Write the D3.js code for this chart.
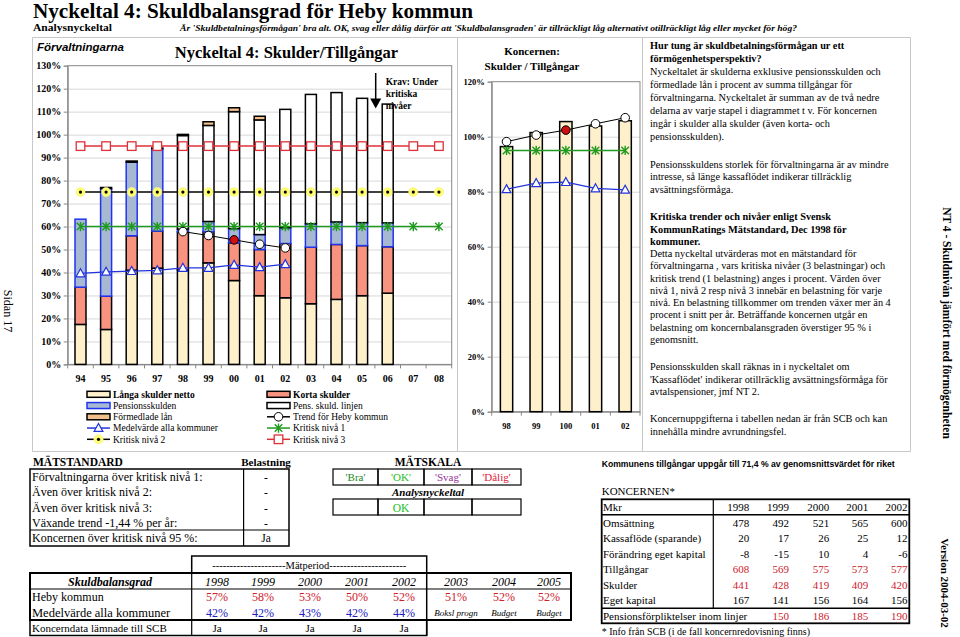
<!DOCTYPE html>
<html><head><meta charset="utf-8">
<script src="https://cdn.jsdelivr.net/npm/d3@7"></script>
<style>
body{margin:0;background:#fff}
svg{display:block}
text{font-family:"Liberation Serif","Times New Roman",serif;fill:#000}
</style>
</head><body>
<svg id="c" width="960" height="637"></svg>
<script>
// ---------- DATA ----------
const years = ['94','95','96','97','98','99','00','01','02','03','04','05','06','07','08'];
const langaSkulder    = [17.4,15.2,41.0,41.9,41.0,44.2,36.5,29.9,29.0,26.4,28.3,29.9,31.0,null,null];
const kortaSkulder    = [16.2,14.5,15.0,16.1,16.7,13.5,16.4,20.1,23.6,24.6,23.9,21.8,20.2,null,null];
const pensionsskulden = [29.6,46.8,32.0,35.9,1.2,4.5,6.2,6.5,6.9,10.2,9.8,10.0,10.4,null,null];
const pensLinjen      = [0,0,0,0,40.7,41.8,50.9,49.9,51.5,56.3,56.3,54.1,51.7,null,null];
const formedladeLan   = [0,0.5,0.5,0.3,0.5,1.6,1.7,1.6,0,0,0,0,0,null,null];
const trendHeby  = [null,null,null,null,57.8,56.1,54.2,52.3,50.7,null,null,null,null,null,null];
const medelAlla  = [39.6,40.3,40.6,40.9,42.0,42.0,43.3,42.3,43.6,null,null,null,null,null,null];
const kritisk1   = [60,60,60,60,60,60,60,60,60,60,60,60,60,60,60];
const kritisk2   = [75,75,75,75,75,75,75,75,75,75,75,75,75,75,75];
const kritisk3   = [95,95,95,95,95,95,95,95,95,95,95,95,95,95,95];
const mainTicks  = [0,10,20,30,40,50,60,70,80,90,100,110,120,130];

const koncernYears   = ['98','99','100','01','02'];
const koncernSkulder = [96.4,101.5,105.5,103.9,105.8];
const koncernTrend   = [98.2,100.6,102.4,104.7,106.9];
const koncernKritisk = [95,95,95,95,95];
const koncernMedel   = [80.9,83.1,83.5,81.2,80.7];
const koncernTicks   = [0,20,40,60,80,100,120];

const matRows   = ['Förvaltningarna över kritisk nivå 1:','Även över kritisk nivå 2:','Även över kritisk nivå 3:','Växande trend -1,44 % per år:','Koncernen över kritisk nivå 95 %:'];
const matValues = ['-','-','-','-','Ja'];
const skalaLabels = ["'Bra'","'OK'","'Svag'","'Dålig'"];
const skalaResult = ['','OK','',''];

const gradYears  = ['1998','1999','2000','2001','2002','2003','2004','2005'];
const gradHeby   = ['57%','58%','53%','50%','52%','51%','52%','52%'];
const gradMedel  = ['42%','42%','43%','42%','44%'];
const gradNotes  = ['Boksl progn','Budget','Budget'];
const koncernLamnad = ['Ja','Ja','Ja','Ja','Ja'];

const kYears = ['1998','1999','2000','2001','2002'];
const kRows = [
  {label:'Omsättning', vals:['478','492','521','565','600'], red:false},
  {label:'Kassaflöde (sparande)', vals:['20','17','26','25','12'], red:false},
  {label:'Förändring eget kapital', vals:['-8','-15','10','4','-6'], red:false},
  {label:'Tillgångar', vals:['608','569','575','573','577'], red:true},
  {label:'Skulder', vals:['441','428','419','409','420'], red:true},
  {label:'Eget kapital', vals:['167','141','156','164','156'], red:false},
  {label:'Pensionsförpliktelser inom linjer', vals:['','150','186','185','190'], red:true}
];

const paragraphs = [
  {y:45.5, step:13.0, lines:[
    ['Hur tung är skuldbetalningsförmågan ur ett',1],['förmögenhetsperspektiv?',1],
    ['Nyckeltalet är skulderna exklusive pensionsskulden och',0],
    ['förmedlade lån i procent av summa tillgångar för',0],
    ['förvaltningarna. Nyckeltalet är summan av de två nedre',0],
    ['delarna av varje stapel i diagrammet t v.  För koncernen',0],
    ['ingår i skulder alla skulder (även korta- och',0],
    ['pensionsskulden).',0]]},
  {y:164.3, step:12.4, lines:[
    ['Pensionsskuldens storlek för förvaltningarna är av mindre',0],
    ['intresse, så länge kassaflödet indikerar tillräcklig',0],
    ['avsättningsförmåga.',0]]},
  {y:216.7, step:12.26, lines:[
    ['Kritiska trender och nivåer enligt Svensk',1],
    ['KommunRatings Mätstandard, Dec 1998 för',1],
    ['kommuner.',1],
    ['Detta nyckeltal utvärderas mot en mätstandard för',0],
    ['förvaltningarna , vars kritiska nivåer (3 belastningar) och',0],
    ['kritisk trend (1 belastning) anges i procent. Värden över',0],
    ['nivå 1, nivå 2 resp nivå 3 innebär en belastning för varje',0],
    ['nivå. En belastning tillkommer om trenden växer mer än 4',0],
    ['procent i snitt per år.  Beträffande koncernen utgår en',0],
    ['belastning om koncernbalansgraden överstiger 95 % i',0],
    ['genomsnitt.',0]]},
  {y:366.7, step:12.3, lines:[
    ['Pensionsskulden skall räknas in i nyckeltalet om',0],
    ["'Kassaflödet' indikerar otillräcklig avsättningsförmåga för",0],
    ['avtalspensioner, jmf NT 2.',0]]},
  {y:418.3, step:12.7, lines:[
    ['Koncernuppgifterna i tabellen nedan är från SCB och kan',0],
    ['innehålla mindre avrundningsfel.',0]]}
];

// ---------- DRAW ----------
const svg = d3.select('#c');
svg.append('rect').attr('width',960).attr('height',637).attr('fill','#fff');

const C = {langa:'#FFF0CC', korta:'#F8937F', pens:'#A7B8D2', pensStroke:'#2233EE', linjen:'#FFFFFF', form:'#F2C08C',
  trend:'#000', medel:'#2233DD', k1:'#1E9A1E', k2:'#000', k3:'#E0303A', grid:'#D8D8D8', frame:'#C8C8C8'};

function txt(g, x, y, s, o={}) {
  const t = g.append('text').attr('x',x).attr('y',y).text(s)
    .attr('font-size', o.size||10).attr('text-anchor', o.anchor||'start');
  if (o.bold) t.attr('font-weight','bold');
  if (o.italic) t.attr('font-style','italic');
  if (o.fill) t.style('fill', o.fill);
  if (o.family) t.style('font-family', o.family);
  if (o.len) t.attr('textLength', o.len).attr('lengthAdjust','spacingAndGlyphs');
  if (o.db) t.attr('dominant-baseline', o.db);
  return t;
}

function markerAster(g, x, y, col) {
  const s = 3.8;
  g.append('path').attr('d',`M${x-s},${y-s}L${x+s},${y+s}M${x-s},${y+s}L${x+s},${y-s}M${x},${y-s-0.8}L${x},${y+s+0.8}`)
    .attr('stroke', col).attr('stroke-width',1.4).attr('fill','none');
}
function markerYellow(g, x, y) {
  g.append('circle').attr('cx',x).attr('cy',y).attr('r',4.6).attr('fill','#FFFF70').attr('stroke','#F4F4A0').attr('stroke-width',0.6);
  g.append('circle').attr('cx',x).attr('cy',y).attr('r',1.6).attr('fill','#000');
}
function markerSquare(g, x, y) {
  g.append('rect').attr('x',x-4.3).attr('y',y-4.3).attr('width',8.6).attr('height',8.6)
    .attr('fill','#fff').attr('stroke',C.k3).attr('stroke-width',1.3);
}
function markerCircle(g, x, y, fill) {
  g.append('circle').attr('cx',x).attr('cy',y).attr('r',4.3).attr('fill',fill||'#fff').attr('stroke','#000').attr('stroke-width',1);
}
function markerTri(g, x, y) {
  g.append('path').attr('d',`M${x},${y-4.6}L${x+4.4},${y+3.4}L${x-4.4},${y+3.4}Z`)
    .attr('fill','#fff').attr('stroke',C.medel).attr('stroke-width',1.2);
}
function drawSeries(g, xs, ys, cats, vals, lineCol, lw, markFn) {
  const pts = cats.map((c,i)=>[xs(c)+xs.bandwidth()/2, vals[i]==null?null:ys(vals[i])]);
  const line = d3.line().defined(d=>d[1]!=null);
  g.append('path').attr('d', line(pts)).attr('fill','none').attr('stroke',lineCol).attr('stroke-width',lw);
  pts.forEach((p,i)=>{ if(p[1]!=null) markFn(g, p[0], p[1], i); });
}

// ---------- frames ----------
const fr = svg.append('g').attr('stroke',C.frame).attr('stroke-width',1).attr('fill','none');
fr.append('path').attr('d','M32.5,37.5H910.5M32.5,37.5V451.5H910.5V37.5M457.5,37.5V451.5M642.5,37.5V451.5');

// ---------- header ----------
txt(svg, 33, 18, 'Nyckeltal 4: Skuldbalansgrad för Heby kommun', {size:21.5, bold:true, len:440});
txt(svg, 33, 31, 'Analysnyckeltal', {size:10.5, bold:true, len:79});
txt(svg, 180, 31, "Är 'Skuldbetalningsförmågan' bra alt. OK, svag eller dålig därför att 'Skuldbalansgraden' är tillräckligt låg alternativt otillräckligt låg eller mycket för hög?", {size:8.8, bold:true, italic:true, len:617});

// ---------- main chart ----------
const m = svg.append('g');
const x = d3.scaleBand().domain(years).range([67.7, 451.7]).padding(0);
const y = d3.scaleLinear().domain([0,130]).range([364.4, 65.7]);

m.append('g').selectAll('line').data(mainTicks.filter(t=>t>0 && t<130)).join('line')
  .attr('x1',67.7).attr('x2',451.7).attr('y1',d=>y(d)+0.5).attr('y2',d=>y(d)+0.5)
  .attr('stroke',C.grid).attr('stroke-width',1);
m.append('rect').attr('x',67.7).attr('y',y(130)).attr('width',384).attr('height',y(0)-y(130))
  .attr('fill','none').attr('stroke','#888').attr('stroke-width',1);

const yAxis = d3.axisLeft(y).tickValues(mainTicks).tickSize(4).tickFormat(d=>d+'%');
const yg = m.append('g').attr('transform','translate(67.7,0)').call(yAxis);
yg.select('.domain').attr('stroke','#888');
yg.selectAll('.tick line').attr('stroke','#888');
yg.selectAll('.tick text').attr('font-size',10).attr('font-weight','bold').attr('x',-6.5)
  .style('font-family','"Liberation Serif",serif');
const xAxis = d3.axisBottom(x).tickSize(0).tickPadding(11);
const xg = m.append('g').attr('transform',`translate(0,${y(0)})`).call(xAxis);
xg.select('.domain').attr('stroke','#888');
xg.selectAll('.tick text').attr('font-size',10).attr('font-weight','bold').style('font-family','"Liberation Serif",serif');
m.append('g').selectAll('line').data(d3.range(years.length+1)).join('line')
  .attr('x1',i=>67.7+i*x.step()).attr('x2',i=>67.7+i*x.step()).attr('y1',y(0)).attr('y2',y(0)+4)
  .attr('stroke','#888');

const segs = [
  {vals:langaSkulder, fill:C.langa, stroke:'#000'},
  {vals:kortaSkulder, fill:C.korta, stroke:'#000'},
  {vals:pensionsskulden, fill:C.pens, stroke:C.pensStroke},
  {vals:pensLinjen, fill:C.linjen, stroke:'#000'},
  {vals:formedladeLan, fill:C.form, stroke:'#000'}
];
const bw = 11;
years.forEach((yr,i)=>{
  let base = 0;
  segs.forEach(s=>{
    const v = s.vals[i];
    if (v==null || v<=0) return;
    m.append('rect').attr('x', x(yr)+x.bandwidth()/2-bw/2).attr('width',bw)
      .attr('y', y(base+v)).attr('height', y(base)-y(base+v))
      .attr('fill', s.fill).attr('stroke', s.stroke).attr('stroke-width',1.5);
    base += v;
  });
});

drawSeries(m, x, y, years, kritisk1, C.k1, 1.5, (g,px,py)=>markerAster(g,px,py,C.k1));
drawSeries(m, x, y, years, kritisk2, C.k2, 1.5, (g,px,py)=>markerYellow(g,px,py));
drawSeries(m, x, y, years, kritisk3, C.k3, 1.5, (g,px,py)=>markerSquare(g,px,py));
drawSeries(m, x, y, years, medelAlla, C.medel, 1.3, (g,px,py)=>markerTri(g,px,py));
drawSeries(m, x, y, years, trendHeby, C.trend, 1, (g,px,py,i)=>markerCircle(g,px,py, years[i]==='00'?'#D01010':'#fff'));

txt(svg, 37, 50.5, 'Förvaltningarna', {size:11.5, italic:true, family:'"Liberation Sans",Arial,sans-serif', bold:true});
txt(svg, 286.5, 58, 'Nyckeltal 4: Skulder/Tillgångar', {size:16.5, bold:true, anchor:'middle'});
svg.append('line').attr('x1',375.7).attr('x2',375.7).attr('y1',73).attr('y2',100).attr('stroke','#000').attr('stroke-width',1.5);
svg.append('path').attr('d','M370.2,98.5L381.2,98.5L375.7,108.5Z').attr('fill','#000');
txt(svg, 385.7, 84.5, 'Krav: Under', {size:9.5, bold:true});
txt(svg, 385.7, 96.5, 'kritiska', {size:9.5, bold:true});
txt(svg, 385.7, 108.5, 'nivåer', {size:9.5, bold:true});

const legItems = [
  ['rect', C.langa, '#000', 'Långa skulder netto', true], ['rect', C.korta, '#000', 'Korta skulder', true],
  ['rect', C.pens, C.pensStroke, 'Pensionsskulden', false], ['rect', '#fff', '#000', 'Pens. skuld. linjen', false],
  ['rect', C.form, '#000', 'Förmedlade lån', false], ['trend', null, null, 'Trend för Heby kommun', false],
  ['medel', null, null, 'Medelvärde alla kommuner', false], ['k1', null, null, 'Kritisk nivå 1', false],
  ['k2', null, null, 'Kritisk nivå 2', false], ['k3', null, null, 'Kritisk nivå 3', false]
];
legItems.forEach((it,i)=>{
  const col = i%2, row = Math.floor(i/2);
  const sx = col? 267 : 87, cy = 394.3 + row*11.25;
  if (it[0]==='rect') {
    m.append('rect').attr('x',sx).attr('y',cy-3).attr('width',23).attr('height',6)
      .attr('fill',it[1]).attr('stroke',it[2]).attr('stroke-width',1.5);
  } else {
    const lc = {trend:'#000', medel:C.medel, k1:C.k1, k2:'#000', k3:C.k3}[it[0]];
    m.append('line').attr('x1',sx).attr('x2',sx+23).attr('y1',cy).attr('y2',cy).attr('stroke',lc).attr('stroke-width',1.5);
    const mx = sx+11.5;
    if (it[0]==='trend') markerCircle(m,mx,cy);
    if (it[0]==='medel') markerTri(m,mx,cy);
    if (it[0]==='k1') markerAster(m,mx,cy,C.k1);
    if (it[0]==='k2') markerYellow(m,mx,cy);
    if (it[0]==='k3') markerSquare(m,mx,cy);
  }
  txt(m, sx+26, cy+3.3, it[3], {size:9.5, bold:it[4]});
});

// ---------- koncern chart ----------
const k = svg.append('g');
const kx = d3.scaleBand().domain(koncernYears).range([491.7, 640]).padding(0);
const ky = d3.scaleLinear().domain([0,120]).range([411.7, 81.7]);
k.append('g').selectAll('line').data(koncernTicks.filter(t=>t>0 && t<120)).join('line')
  .attr('x1',491.7).attr('x2',640).attr('y1',d=>ky(d)+0.5).attr('y2',d=>ky(d)+0.5).attr('stroke',C.grid);
k.append('rect').attr('x',491.7).attr('y',ky(120)).attr('width',640-491.7).attr('height',ky(0)-ky(120))
  .attr('fill','none').attr('stroke','#888');
const kyg = k.append('g').attr('transform','translate(491.7,0)').call(d3.axisLeft(ky).tickValues(koncernTicks).tickSize(4).tickFormat(d=>d+'%'));
kyg.select('.domain').attr('stroke','#888'); kyg.selectAll('.tick line').attr('stroke','#888');
kyg.selectAll('.tick text').attr('font-size',8.5).attr('font-weight','bold').attr('x',-7).style('font-family','"Liberation Serif",serif');
const kxg = k.append('g').attr('transform',`translate(0,${ky(0)})`).call(d3.axisBottom(kx).tickSize(0).tickPadding(11));
kxg.select('.domain').attr('stroke','#888');
kxg.selectAll('.tick text').attr('font-size',8.5).attr('font-weight','bold').style('font-family','"Liberation Serif",serif');
k.append('g').selectAll('line').data(d3.range(koncernYears.length+1)).join('line')
  .attr('x1',i=>491.7+i*kx.step()).attr('x2',i=>491.7+i*kx.step()).attr('y1',ky(0)).attr('y2',ky(0)+4).attr('stroke','#888');
const kbw = 12.3;
k.selectAll('rect.bar').data(koncernSkulder).join('rect').attr('class','bar')
  .attr('x',(d,i)=>kx(koncernYears[i])+kx.bandwidth()/2-kbw/2).attr('width',kbw)
  .attr('y',d=>ky(d)).attr('height',d=>ky(0)-ky(d))
  .attr('fill',C.langa).attr('stroke','#000').attr('stroke-width',1.5);
drawSeries(k, kx, ky, koncernYears, koncernKritisk, C.k1, 1.5, (g,px,py)=>markerAster(g,px,py,C.k1));
drawSeries(k, kx, ky, koncernYears, koncernMedel, C.medel, 1.3, (g,px,py)=>markerTri(g,px,py));
drawSeries(k, kx, ky, koncernYears, koncernTrend, '#000', 1, (g,px,py,i)=>markerCircle(g,px,py, koncernYears[i]==='100'?'#D01010':'#fff'));
txt(svg, 532, 54.5, 'Koncernen:', {size:11, bold:true, anchor:'middle'});
txt(svg, 532, 69.5, 'Skulder / Tillgångar', {size:11, bold:true, anchor:'middle'});

// ---------- right text panel ----------
paragraphs.forEach(p=>{
  p.lines.forEach((l,i)=>{
    txt(svg, 650, p.y + i*p.step + 3.6, l[0], {size:10.3, bold:!!l[1]});
  });
});

txt(svg, 0, 0, 'NT 4 - Skuldnivån jämfört med förmögenheten', {size:11.5, bold:true, anchor:'middle', db:'central'})
  .attr('transform','translate(947,323) rotate(90)');
txt(svg, 0, 0, 'Version 2004-03-02', {size:11, bold:true, anchor:'middle', db:'central'})
  .attr('transform','translate(945,583) rotate(90)');
txt(svg, 0, 0, 'Sidan 17', {size:12, anchor:'middle', db:'central'})
  .attr('transform','translate(8,311) rotate(90)');

// ---------- MÄTSTANDARD ----------
const b = svg.append('g');
txt(b, 33, 466, 'MÄTSTANDARD', {size:11.5, bold:true});
txt(b, 266, 466, 'Belastning', {size:11, bold:true, anchor:'middle'});
b.append('rect').attr('x',30).attr('y',469).attr('width',259).attr('height',77).attr('fill','none').attr('stroke','#000').attr('stroke-width',1.5);
b.append('line').attr('x1',243.6).attr('x2',243.6).attr('y1',469).attr('y2',546).attr('stroke','#000').attr('stroke-width',1.2);
b.append('line').attr('x1',30).attr('x2',289).attr('y1',530).attr('y2',530).attr('stroke','#000').attr('stroke-width',1.2);
matRows.forEach((r,i)=>{
  const by = [480.5,496,511.5,526.5,542][i];
  txt(b, 32, by, r, {size:12});
  txt(b, 266, by, matValues[i], {size:11.5, anchor:'middle'});
});
txt(b, 428, 466, 'MÄTSKALA', {size:11.5, bold:true, anchor:'middle'});
const cellX = [333,378,424,472,521];
const skalaCol = ['#1A8A1A','#22C022','#993399','#E0203A'];
skalaLabels.forEach((s,i)=>{
  b.append('rect').attr('x',cellX[i]).attr('y',469).attr('width',cellX[i+1]-cellX[i]).attr('height',16)
    .attr('fill','none').attr('stroke','#000').attr('stroke-width',1.2);
  txt(b, (cellX[i]+cellX[i+1])/2, 481, s, {size:11, anchor:'middle', fill:skalaCol[i]});
  b.append('rect').attr('x',cellX[i]).attr('y',499).attr('width',cellX[i+1]-cellX[i]).attr('height',16)
    .attr('fill','none').attr('stroke','#000').attr('stroke-width',1.2);
  if (skalaResult[i]) txt(b, (cellX[i]+cellX[i+1])/2, 511.5, skalaResult[i], {size:11.5, anchor:'middle', fill:'#22C022'});
});
txt(b, 428, 496, 'Analysnyckeltal', {size:11, bold:true, italic:true, anchor:'middle'});

// ---------- Skuldbalansgrad table ----------
const t = svg.append('g');
t.append('rect').attr('x',191.7).attr('y',556).attr('width',235).attr('height',17).attr('fill','none').attr('stroke','#000').attr('stroke-width',1.5);
txt(t, 309.2, 568.5, '---------------------Mätperiod----------------------', {size:10.5, anchor:'middle'});
t.append('rect').attr('x',30).attr('y',573).attr('width',541).attr('height',47).attr('fill','none').attr('stroke','#000').attr('stroke-width',2);
t.append('rect').attr('x',30).attr('y',620).attr('width',396.7).attr('height',15.5).attr('fill','none').attr('stroke','#000').attr('stroke-width',1.5);
t.append('line').attr('x1',30).attr('x2',571).attr('y1',589).attr('y2',589).attr('stroke','#000').attr('stroke-width',1.2);
t.append('line').attr('x1',191.7).attr('x2',191.7).attr('y1',573).attr('y2',635.5).attr('stroke','#000').attr('stroke-width',1.2);
t.append('line').attr('x1',426.7).attr('x2',426.7).attr('y1',573).attr('y2',635.5).attr('stroke','#000').attr('stroke-width',1.5);
const colX = [217,263,310,357,404,456,504,549];
txt(t, 110, 585.5, 'Skuldbalansgrad', {size:12, bold:true, italic:true, anchor:'middle'});
txt(t, 32, 601, 'Heby kommun', {size:12});
txt(t, 32, 616.5, 'Medelvärde alla kommuner', {size:12.5});
txt(t, 32, 632, 'Koncerndata lämnade till SCB', {size:11});
gradYears.forEach((yv,i)=>{
  txt(t, colX[i], 585.5, yv, {size:12, italic:true, anchor:'middle'});
  txt(t, colX[i], 601, gradHeby[i], {size:12, anchor:'middle', fill:'#D0202A'});
  if (i<5) {
    txt(t, colX[i], 616.5, gradMedel[i], {size:12, anchor:'middle', fill:'#2020C0'});
    txt(t, colX[i], 632, koncernLamnad[i], {size:11, anchor:'middle'});
  } else {
    txt(t, colX[i], 616, gradNotes[i-5], {size:9, italic:true, anchor:'middle'});
  }
});

// ---------- Koncernen table ----------
const r = svg.append('g');
txt(r, 601.7, 467, 'Kommunens tillgångar uppgår till 71,4 % av genomsnittsvärdet för riket', {size:9, bold:true, family:'"Liberation Sans",Arial,sans-serif', len:293});
txt(r, 601.7, 495, 'KONCERNEN*', {size:11});
r.append('rect').attr('x',601.7).attr('y',499.3).attr('width',307.6).attr('height',124).attr('fill','none').attr('stroke','#000').attr('stroke-width',1.8);
r.append('line').attr('x1',601.7).attr('x2',909.3).attr('y1',514.8).attr('y2',514.8).attr('stroke','#000').attr('stroke-width',1.5);
r.append('line').attr('x1',601.7).attr('x2',909.3).attr('y1',608.3).attr('y2',608.3).attr('stroke','#000').attr('stroke-width',1.5);
r.append('line').attr('x1',713.3).attr('x2',713.3).attr('y1',499.3).attr('y2',608.3).attr('stroke','#000').attr('stroke-width',1.2);
const kRight = [749.3,789,829.3,868.3,907.5];
txt(r, 603, 511, 'Mkr', {size:11});
kYears.forEach((yv,i)=> txt(r, kRight[i], 511, yv, {size:11, anchor:'end'}));
kRows.forEach((row,j)=>{
  const by = 507.3 + (j+1)*15.55 + 3.8;
  txt(r, 603, by, row.label, {size:11});
  row.vals.forEach((v,i)=> txt(r, kRight[i], by, v, {size:11, anchor:'end', fill: row.red?'#D0202A':'#000'}));
});
txt(r, 601.7, 635, '* Info från SCB (i de fall koncernredovisning finns)', {size:10});
</script>
</body></html>
